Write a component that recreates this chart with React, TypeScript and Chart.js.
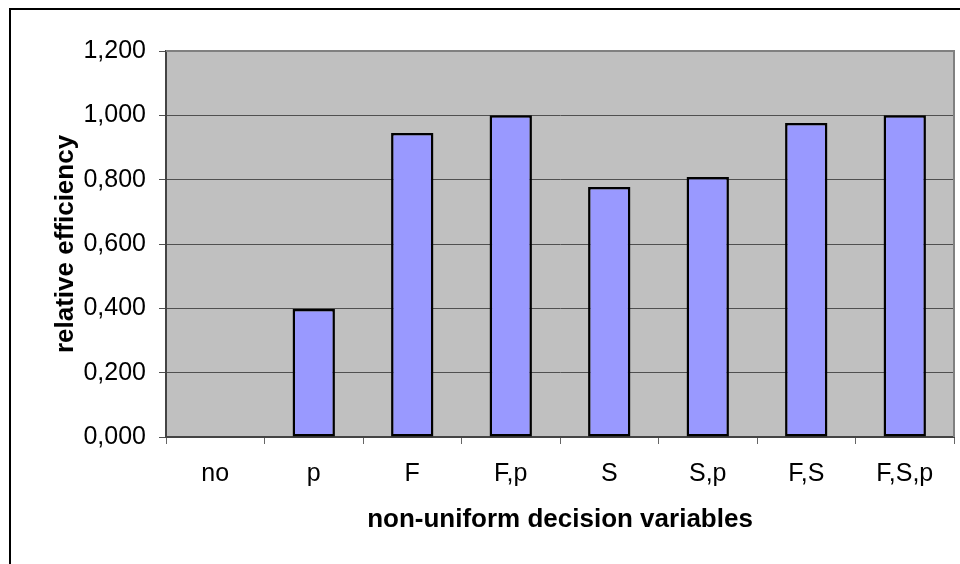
import React, { useEffect, useRef } from "react";
import { Chart, registerables } from "chart.js";

Chart.register(...registerables);

const categories = ["no", "p", "F", "F,p", "S", "S,p", "F,S", "F,S,p"];
const efficiency = [0, 0.398, 0.945, 1.0, 0.777, 0.808, 0.976, 1.0];
const yTickLabels = ["0,000", "0,200", "0,400", "0,600", "0,800", "1,000", "1,200"];
const yTitle = "relative efficiency";
const xTitle = "non-uniform decision variables";

const FONT = "'Liberation Sans', Arial, sans-serif";

const plotBg = {
  id: "plotBg",
  beforeDraw(chart: any) {
    const { ctx, chartArea: a } = chart;
    ctx.save();
    ctx.fillStyle = "#C0C0C0";
    ctx.fillRect(a.left, a.top, a.right - a.left, a.bottom - a.top);
    ctx.restore();
  },
  afterDraw(chart: any) {
    const { ctx, chartArea: a } = chart;
    ctx.save();
    ctx.strokeStyle = "#808080";
    ctx.lineWidth = 2;
    ctx.beginPath();
    ctx.moveTo(a.left, a.top);
    ctx.lineTo(a.right, a.top);
    ctx.lineTo(a.right, a.bottom);
    ctx.stroke();
    ctx.restore();
  },
};

export default function App() {
  const ref = useRef<HTMLCanvasElement>(null);
  useEffect(() => {
    if (!ref.current) return;
    const chart = new Chart(ref.current, {
      type: "bar",
      data: {
        labels: categories,
        datasets: [
          {
            data: efficiency,
            backgroundColor: "#9999FF",
            borderColor: "#000000",
            borderWidth: 2.5,
            borderSkipped: false,
            barPercentage: 0.43,
            categoryPercentage: 1,
          },
        ],
      },
      options: {
        animation: false,
        responsive: false,
        maintainAspectRatio: false,
        layout: { padding: { top: 51, right: 6, left: 50, bottom: 0 } },
        plugins: { legend: { display: false }, tooltip: { enabled: false } },
        scales: {
          x: {
            offset: true,
            grid: {
              offset: true,
              drawOnChartArea: false,
              drawTicks: true,
              tickLength: 7,
              color: "#666666",
              lineWidth: 1,
            },
            border: { display: true, color: "#444444", width: 2 },
            ticks: {
              color: "#000",
              padding: 15,
              maxRotation: 0,
              font: { family: FONT, size: 25 },
            },
            title: {
              display: true,
              text: xTitle,
              color: "#000",
              padding: { top: 0, bottom: 29 },
              font: { family: FONT, size: 26, weight: "bold", lineHeight: 1.2 },
            },
            afterFit(scale: any) {
              scale.height = 127;
            },
          },
          y: {
            min: 0,
            max: 1.2,
            ticks: {
              stepSize: 0.2,
              color: "#000",
              padding: 13,
              font: { family: FONT, size: 25 },
              callback: (_v: any, i: number) => yTickLabels[i],
            },
            grid: {
              color: "#505050",
              lineWidth: 1,
              drawTicks: true,
              tickLength: 7,
            },
            border: { display: true, color: "#444444", width: 2 },
            title: {
              display: true,
              text: yTitle,
              color: "#000",
              padding: { top: 0, bottom: 0 },
              font: { family: FONT, size: 26, weight: "bold", lineHeight: 1.2 },
            },
            afterFit(scale: any) {
              scale.width = 116;
            },
          },
        },
      },
      plugins: [plotBg],
    });
    return () => chart.destroy();
  }, []);

  return (
    <div
      style={{
        position: "fixed",
        left: 0,
        top: 0,
        width: 960,
        height: 564,
        overflow: "hidden",
        background: "#fff",
      }}
    >
      <canvas ref={ref} width={960} height={564} style={{ position: "absolute", left: 0, top: 0 }} />
      <div
        style={{
          position: "absolute",
          left: 9,
          top: 8,
          width: 2000,
          height: 2000,
          borderLeft: "2px solid #000",
          borderTop: "2px solid #000",
        }}
      />
    </div>
  );
}
